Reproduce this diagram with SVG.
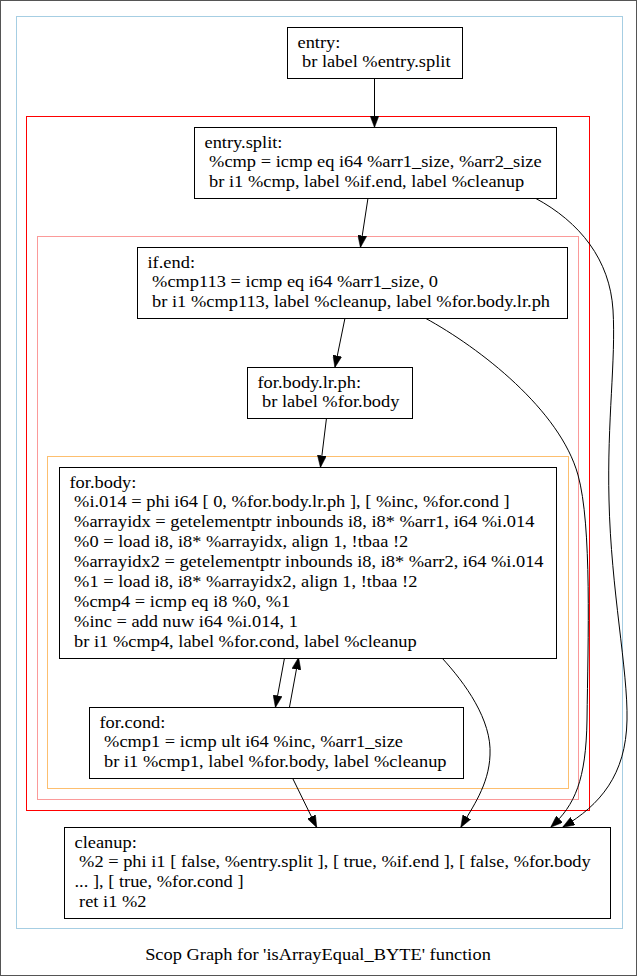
<svg xmlns="http://www.w3.org/2000/svg" width="637" height="976" viewBox="0 0 637 976">
<style>
.bg{fill:#fff;stroke:#555;stroke-width:1}
.cl{fill:none;stroke-width:1}
.nd{fill:#fff;stroke:#000;stroke-width:1}
.t{font-family:"Liberation Serif","Times New Roman",serif;font-size:16.8px;fill:#000}
.e{fill:none;stroke:#000;stroke-width:1}
</style>
<defs>
<marker id="ah" markerUnits="userSpaceOnUse" markerWidth="12" markerHeight="9" viewBox="0 0 12 9" refX="11.5" refY="4.5" orient="auto">
<path d="M0,0 L12,4.5 L0,9 z" fill="#000" stroke="#000" stroke-width="0.5"/>
</marker>
</defs>
<rect class="bg" x="0.5" y="0.5" width="636" height="975"/>
<g id="clusters">
<rect id="cluster_0" class="cl" stroke="#a6cee3" x="16.5" y="16.5" width="606" height="912"/>
<rect id="cluster_scop" class="cl" stroke="#ff0000" x="26.5" y="116.5" width="563" height="694"/>
<rect id="cluster_2" class="cl" stroke="#fb9a99" x="37.5" y="236.5" width="541" height="563"/>
<rect id="cluster_3" class="cl" stroke="#fdbf6f" x="47.5" y="456.5" width="521" height="332"/>
</g>
<g id="edges">
<path class="e" marker-end="url(#ah)" d="M374.5,78 L374.5,127"/>
<path class="e" marker-end="url(#ah)" d="M368,198 L360.5,247"/>
<path class="e" marker-end="url(#ah)" d="M535,198 C580,222 610,260 613,310 C616,360 607,420 609,500 C611,590 628,670 627,720 C626,775 600,805 563,827"/>
<path class="e" marker-end="url(#ah)" d="M345,318 L335,367"/>
<path class="e" marker-end="url(#ah)" d="M425,318 C480,348 560,410 578,475 C592,525 588,640 587,720 C586,780 575,805 551,827"/>
<path class="e" marker-end="url(#ah)" d="M326.5,418 L320.5,467"/>
<path class="e" marker-end="url(#ah)" d="M284.5,658 L275.5,707"/>
<path class="e" marker-end="url(#ah)" d="M289.5,707 L298.5,658"/>
<path class="e" marker-end="url(#ah)" d="M442,658 C465,683 492,720 490,755 C489,785 472,808 461,827"/>
<path class="e" marker-end="url(#ah)" d="M292.5,778 L316.5,827"/>
</g>
<g id="entry">
<rect class="nd" x="287.5" y="27.5" width="175" height="51"/>
<text class="t" transform="translate(297.5,47.5) scale(1.095,1)"><tspan x="0">entry:</tspan><tspan x="4.2" dy="20">br label %entry.split</tspan></text>
</g>
<g id="entry.split">
<rect class="nd" x="194.5" y="127.5" width="362" height="71"/>
<text class="t" transform="translate(204.5,147.5) scale(1.095,1)"><tspan x="0">entry.split:</tspan><tspan x="4.2" dy="20">%cmp = icmp eq i64 %arr1_size, %arr2_size</tspan><tspan x="4.2" dy="20">br i1 %cmp, label %if.end, label %cleanup</tspan></text>
</g>
<g id="if.end">
<rect class="nd" x="137.5" y="247.5" width="430" height="71"/>
<text class="t" transform="translate(147.5,267.5) scale(1.095,1)"><tspan x="0">if.end:</tspan><tspan x="4.2" dy="20">%cmp113 = icmp eq i64 %arr1_size, 0</tspan><tspan x="4.2" dy="20">br i1 %cmp113, label %cleanup, label %for.body.lr.ph</tspan></text>
</g>
<g id="for.body.lr.ph">
<rect class="nd" x="247.5" y="367.5" width="165" height="51"/>
<text class="t" transform="translate(257.5,387.5) scale(1.095,1)"><tspan x="0">for.body.lr.ph:</tspan><tspan x="4.2" dy="20">br label %for.body</tspan></text>
</g>
<g id="for.body">
<rect class="nd" x="59.5" y="467.5" width="497" height="191"/>
<text class="t" transform="translate(69.5,487.5) scale(1.095,1)"><tspan x="0">for.body:</tspan><tspan x="4.2" dy="20">%i.014 = phi i64 [ 0, %for.body.lr.ph ], [ %inc, %for.cond ]</tspan><tspan x="4.2" dy="20">%arrayidx = getelementptr inbounds i8, i8* %arr1, i64 %i.014</tspan><tspan x="4.2" dy="20">%0 = load i8, i8* %arrayidx, align 1, !tbaa !2</tspan><tspan x="4.2" dy="20">%arrayidx2 = getelementptr inbounds i8, i8* %arr2, i64 %i.014</tspan><tspan x="4.2" dy="20">%1 = load i8, i8* %arrayidx2, align 1, !tbaa !2</tspan><tspan x="4.2" dy="20">%cmp4 = icmp eq i8 %0, %1</tspan><tspan x="4.2" dy="20">%inc = add nuw i64 %i.014, 1</tspan><tspan x="4.2" dy="20">br i1 %cmp4, label %for.cond, label %cleanup</tspan></text>
</g>
<g id="for.cond">
<rect class="nd" x="89.5" y="707.5" width="374" height="71"/>
<text class="t" transform="translate(99.5,727.5) scale(1.095,1)"><tspan x="0">for.cond:</tspan><tspan x="4.2" dy="20">%cmp1 = icmp ult i64 %inc, %arr1_size</tspan><tspan x="4.2" dy="20">br i1 %cmp1, label %for.body, label %cleanup</tspan></text>
</g>
<g id="cleanup">
<rect class="nd" x="64.5" y="827.5" width="546" height="91"/>
<text class="t" transform="translate(74.5,847.5) scale(1.095,1)"><tspan x="0">cleanup:</tspan><tspan x="4.2" dy="20">%2 = phi i1 [ false, %entry.split ], [ true, %if.end ], [ false, %for.body</tspan><tspan x="0" dy="20">... ], [ true, %for.cond ]</tspan><tspan x="4.2" dy="20">ret i1 %2</tspan></text>
</g>
<text id="title" class="t" text-anchor="middle" transform="translate(318,960) scale(1.095,1)">Scop Graph for 'isArrayEqual_BYTE' function</text>
</svg>
